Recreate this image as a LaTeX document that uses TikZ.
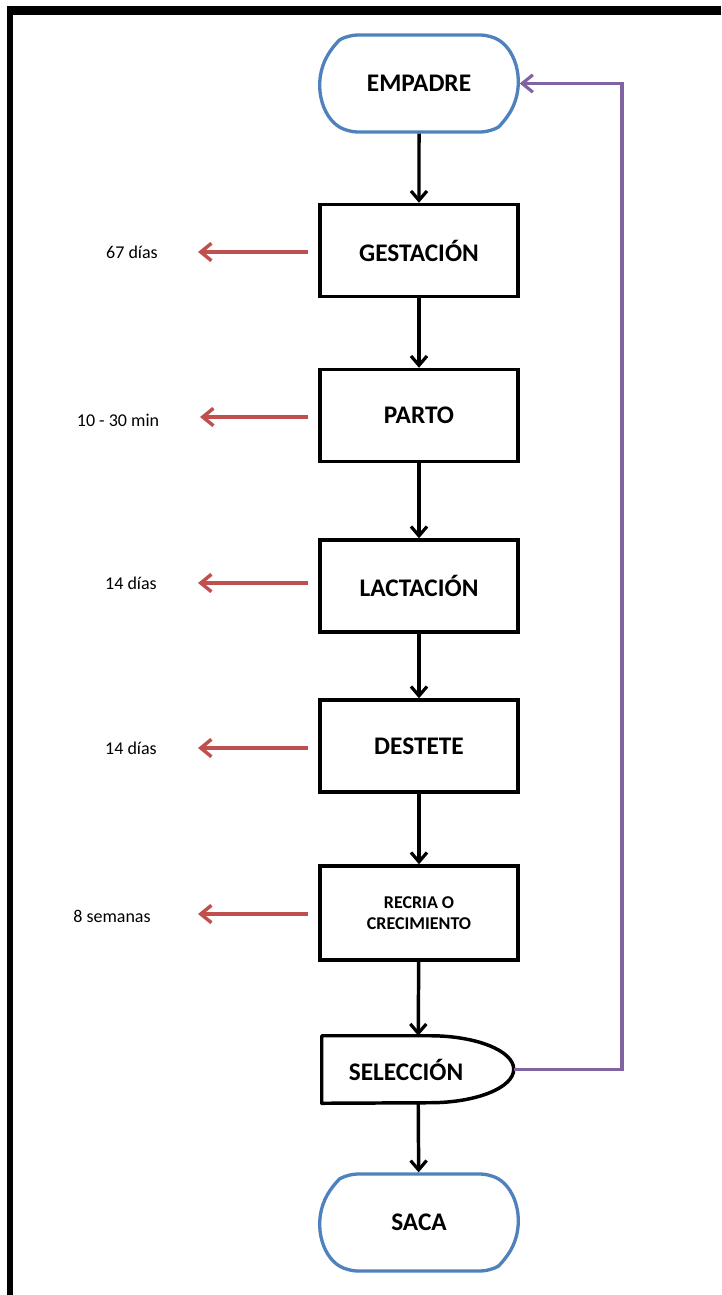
\documentclass[tikz,border=0pt]{standalone}
\usepackage{fontspec}
\setmainfont{Carlito}
\usetikzlibrary{arrows.meta,shapes.misc}
\definecolor{termblue}{RGB}{79,129,189}
\definecolor{arrred}{RGB}{192,80,77}
\definecolor{looppurple}{RGB}{128,100,162}
\tikzset{
  term/.style={rounded rectangle, rounded rectangle arc length=120, rounded corners=7pt, draw=termblue, line width=2.5pt,
    minimum width=148.5pt, minimum height=72.75pt, inner sep=0pt, font=\bfseries\fontsize{19}{21}\selectfont},
  etapa/.style={rectangle, draw, line width=2.6pt, minimum width=148.5pt, minimum height=69pt,
    inner sep=0pt, align=center, font=\bfseries\fontsize{19}{21}\selectfont},
  flujo/.style={line width=2.6pt, -{Straight Barb[length=7pt,width=12pt,line width=2.4pt]}},
  tiempo/.style={arrred, line width=2.8pt, -{Straight Barb[length=8pt,width=13pt,line width=2.6pt]}},
  regreso/.style={looppurple, line width=2.6pt, -{Straight Barb[length=8pt,width=13pt,line width=2.4pt]}},
}
\begin{document}
\begin{tikzpicture}[x=0.75pt,y=-0.75pt,font=\fontsize{13.5}{15}\selectfont]
\useasboundingbox (0,0) rectangle (721,1295);
% marco
\fill (7,6) rectangle (721,15);
\fill (7,6) rectangle (13,1295);
% etapas
\node[term] (emp) at (419,83.5) {EMPADRE};
\node[etapa] (gest) at (419,250.5) {GESTACIÓN};
\node[etapa] (parto) at (419,415.5) {PARTO};
\node[etapa] (lact) at (419,586) {LACTACIÓN};
\node[etapa] (dest) at (419,746) {DESTETE};
\node[etapa,minimum height=70.5pt,font=\bfseries\fontsize{13.5}{16}\selectfont] (rec) at (419,913) {RECRIA O\\CRECIMIENTO};
\node[minimum width=144pt,minimum height=50.25pt,inner sep=0pt,font=\bfseries\fontsize{19}{21}\selectfont] (sel) at (418,1069.5) {\hspace*{-18pt}SELECCIÓN};
\draw[line width=2.6pt,line join=round] (sel.north west) -- ++(108,0) arc[start angle=-90,end angle=90,x radius=84,y radius=33.5] -- (sel.south west) -- cycle;
\node[term] (saca) at (419,1222.5) {SACA};
% flujo principal
\foreach \a/\b in {emp/gest,gest/parto,parto/lact,lact/dest,dest/rec,rec/sel,sel/saca}
  \draw[flujo] (\a) -- (\b);
% tiempos
\path (132,252) node (t1) {67 días} (118,420) node (t2) {10 - 30 min} (131,583) node (t3) {14 días}
  (131,748) node (t4) {14 días} (112,916) node (t5) {8 semanas};
\path (198,252) coordinate (p1) (200,417) coordinate (p2) (198,583) coordinate (p3)
  (198,748) coordinate (p4) (198,914) coordinate (p5);
\foreach \n/\i in {gest/1,parto/2,lact/3,dest/4,rec/5}
  \draw[tiempo] (\n.west |- p\i) ++(-10,0) -- (p\i);
% regreso
\coordinate (ret) at (622,83.5);
\draw[regreso] (sel.east) -| (ret) -- (emp.east);
\end{tikzpicture}
\end{document}
